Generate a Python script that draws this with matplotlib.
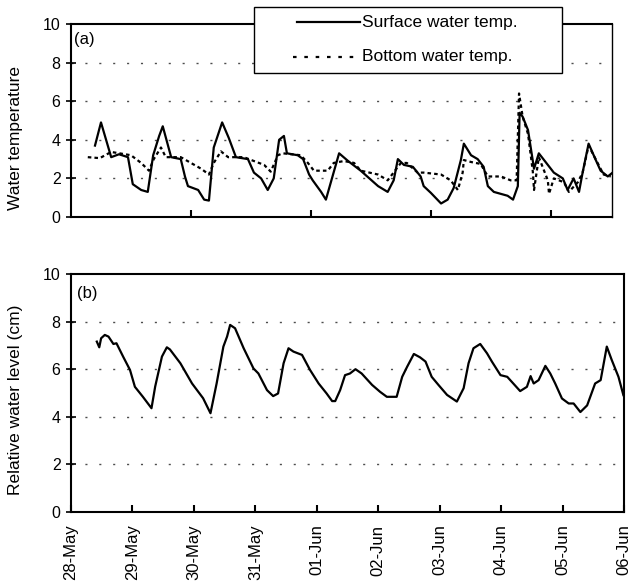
import matplotlib.pyplot as plt
from matplotlib.lines import Line2D
from matplotlib.patches import Rectangle

plt.rcParams['font.family'] = ['Liberation Sans', 'DejaVu Sans']

# days since 28-May 00:00
day_labels = ['28-May', '29-May', '30-May', '31-May', '01-Jun',
              '02-Jun', '03-Jun', '04-Jun', '05-Jun', '06-Jun']

# surface water temperature (solid)
surf_t = [0.40, 0.50, 0.67, 0.80, 0.95, 1.03, 1.17, 1.28, 1.37, 1.47, 1.53,
          1.67, 1.83, 1.90, 1.95, 2.12, 2.22, 2.30, 2.38, 2.52, 2.63, 2.75,
          2.95, 3.05, 3.17, 3.28, 3.38, 3.47, 3.55, 3.60, 3.78, 3.87, 3.97,
          4.03, 4.17, 4.25, 4.47, 4.62, 4.83, 5.12, 5.28, 5.38, 5.45, 5.55,
          5.70, 5.83, 5.88, 6.00, 6.17, 6.28, 6.38, 6.50, 6.55, 6.67, 6.78,
          6.88, 6.95, 7.05, 7.28, 7.37, 7.45, 7.48, 7.53, 7.62, 7.72, 7.80,
          7.95, 8.05, 8.20, 8.28, 8.38, 8.47, 8.53, 8.63, 8.75, 8.83, 8.95,
          9.03]
surf_v = [3.7, 4.9, 3.1, 3.25, 3.1, 1.7, 1.4, 1.3, 3.2, 4.2, 4.7,
          3.1, 3.0, 2.1, 1.6, 1.4, 0.9, 0.85, 3.6, 4.9, 4.1, 3.1,
          3.0, 2.3, 2.0, 1.4, 2.0, 4.0, 4.2, 3.3, 3.2, 3.0, 2.2,
          1.9, 1.3, 0.9, 3.3, 2.9, 2.4, 1.6, 1.3, 1.9, 3.0, 2.7,
          2.6, 2.1, 1.6, 1.25, 0.7, 0.9, 1.5, 2.95, 3.8, 3.2, 3.0,
          2.6, 1.6, 1.3, 1.1, 0.9, 1.6, 5.4, 5.2, 4.5, 2.5, 3.3,
          2.7, 2.3, 2.0, 1.4, 2.0, 1.3, 2.3, 3.8, 2.95, 2.4, 2.1,
          2.3]

# bottom water temperature (dashed)
bot_t = [0.28, 0.48, 0.67, 1.00, 1.17, 1.30, 1.38, 1.50, 1.58, 1.83, 2.00,
         2.17, 2.30, 2.38, 2.50, 2.62, 2.88, 3.05, 3.22, 3.33, 3.45, 3.53,
         3.83, 3.95, 4.05, 4.17, 4.28, 4.38, 4.55, 4.72, 4.83, 5.12, 5.28,
         5.50, 5.60, 5.78, 5.88, 6.17, 6.33, 6.45, 6.53, 6.55, 6.67, 6.83,
         6.95, 7.17, 7.33, 7.43, 7.47, 7.53, 7.62, 7.70, 7.72, 7.80, 7.95,
         7.97, 8.05, 8.22, 8.30, 8.45, 8.53, 8.63, 8.78, 8.88, 9.00]
bot_v = [3.1, 3.05, 3.37, 3.2, 2.8, 2.4, 3.0, 3.6, 3.1, 3.1, 2.8,
         2.5, 2.2, 2.8, 3.4, 3.1, 3.1, 2.9, 2.7, 2.35, 3.2, 3.3,
         3.2, 2.8, 2.4, 2.4, 2.4, 2.8, 2.9, 2.8, 2.4, 2.2, 1.9,
         2.8, 2.8, 2.3, 2.3, 2.2, 1.9, 1.4, 2.3, 2.95, 2.85, 2.75,
         2.1, 2.1, 1.9, 1.9, 6.4, 5.2, 4.3, 2.35, 1.4, 3.1, 1.9,
         1.2, 2.0, 1.8, 1.3, 1.8, 2.3, 3.7, 2.8, 2.2, 2.1]

# relative water level
lvl_t = [0.42, 0.46, 0.49, 0.55, 0.61, 0.69, 0.74, 0.85, 0.96, 1.04, 1.17,
         1.31, 1.37, 1.48, 1.56, 1.61, 1.78, 1.97, 2.15, 2.27, 2.37, 2.48,
         2.54, 2.59, 2.67, 2.81, 2.97, 3.05, 3.19, 3.29, 3.37, 3.46, 3.54,
         3.62, 3.76, 3.89, 4.03, 4.16, 4.25, 4.30, 4.38, 4.46, 4.54, 4.63,
         4.73, 4.90, 5.03, 5.14, 5.30, 5.39, 5.47, 5.58, 5.68, 5.77, 5.87,
         5.98, 6.12, 6.28, 6.39, 6.47, 6.55, 6.66, 6.77, 6.85, 6.99, 7.10,
         7.31, 7.42, 7.48, 7.53, 7.61, 7.72, 7.80, 7.88, 7.99, 8.10, 8.18,
         8.29, 8.40, 8.53, 8.62, 8.72, 8.80, 8.91, 8.99]
lvl_v = [7.16, 6.92, 7.3, 7.44, 7.37, 7.06, 7.09, 6.52, 5.97, 5.26, 4.84,
         4.36, 5.27, 6.53, 6.92, 6.83, 6.25, 5.4, 4.78, 4.15, 5.4, 6.95,
         7.37, 7.86, 7.72, 6.88, 6.03, 5.82, 5.12, 4.87, 4.98, 6.25, 6.88,
         6.74, 6.6, 5.97, 5.4, 4.98, 4.66, 4.66, 5.12, 5.75, 5.82, 6.0,
         5.82, 5.34, 5.05, 4.84, 4.84, 5.68, 6.1, 6.64, 6.5, 6.32, 5.68,
         5.34, 4.92, 4.64, 5.2, 6.25, 6.88, 7.06, 6.67, 6.32, 5.75, 5.68,
         5.08, 5.26, 5.71, 5.4, 5.54, 6.14, 5.82, 5.4, 4.77, 4.56, 4.56,
         4.2, 4.48, 5.4, 5.54, 6.95, 6.39, 5.68, 4.91]

W, H = 628, 585
fig = plt.figure(figsize=(W / 100, H / 100), dpi=100)


def axes_px(left, top, right, bottom):
    return fig.add_axes([left / W, 1 - bottom / H, (right - left) / W, (bottom - top) / H])


ax1 = axes_px(71, 24, 612, 217)
ax2 = axes_px(71, 274, 624, 512)

ax1.plot(surf_t, surf_v, color='black', lw=1.6)
ax1.plot(bot_t, bot_v, color='black', lw=1.6, linestyle=(0, (1.6, 1.4)))
ax2.plot(lvl_t, lvl_v, color='black', lw=1.6)

for ax in (ax1, ax2):
    ax.set_ylim(0, 10)
    ax.set_yticks([0, 2, 4, 6, 8, 10])
    ax.tick_params(axis='y', direction='inout', length=7, width=1.2,
                   labelsize=11.5, pad=4)
    ax.tick_params(axis='x', direction='in', length=5, width=1.5)
    for y in [2, 4, 6, 8]:
        ax.axhline(y, color='0.3', lw=1, linestyle=(0, (1.5, 8.5)), zorder=0)
    for s in ax.spines.values():
        s.set_linewidth(1.5)

ax1.set_xlim(0, 9.02)
ax1.set_xticks([2, 4, 6, 8])
ax1.set_xticklabels([])
ax1.spines['right'].set_linewidth(1.0)
ax1.set_ylabel('Water temperature', fontsize=12.5)
ax1.yaxis.set_label_coords(-0.088, 0.41)
ax1.text(0.005, 0.96, '(a)', transform=ax1.transAxes, fontsize=12,
         ha='left', va='top')

ax2.set_xlim(0, 9)
ax2.set_xticks(range(len(day_labels)))
ax2.set_xticklabels(day_labels, rotation=90, fontsize=12)
ax2.tick_params(axis='x', pad=9)
ax2.set_ylabel('Relative water level (cm)', fontsize=12.5)
ax2.yaxis.set_label_coords(-0.087, 0.47)
ax2.text(0.01, 0.95, '(b)', transform=ax2.transAxes, fontsize=12,
         ha='left', va='top')

# legend box drawn above the top panel
tf = fig.transFigure
fig.add_artist(Rectangle((254 / W, 1 - 73 / H), 308 / W, 66 / H, transform=tf,
                         facecolor='white', edgecolor='black', lw=1.0, zorder=5))
fig.add_artist(Line2D([297 / W, 360 / W], [1 - 22 / H, 1 - 22 / H], transform=tf,
                      color='black', lw=1.6, zorder=6))
fig.add_artist(Line2D([293 / W, 360 / W], [1 - 57 / H, 1 - 57 / H], transform=tf,
                      color='black', lw=1.6, linestyle=(0, (1.6, 3.5)), zorder=6))
fig.text(362 / W, 1 - 22 / H, 'Surface water temp.', fontsize=12.5,
         va='center', ha='left', zorder=7)
fig.text(362 / W, 1 - 57 / H, 'Bottom water temp.', fontsize=12.5,
         va='center', ha='left', zorder=7)

fig.savefig('out.png', dpi=100)
